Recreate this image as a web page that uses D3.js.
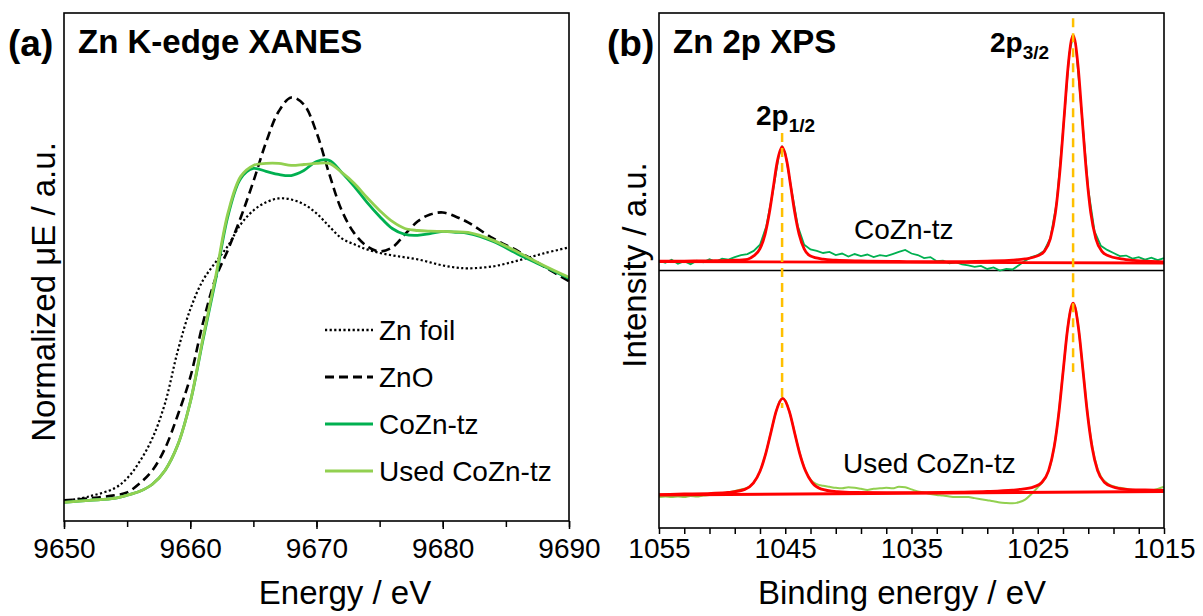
<!DOCTYPE html>
<html>
<head>
<meta charset="utf-8">
<script src="https://cdn.jsdelivr.net/npm/d3@7"></script>
<style>
body { margin: 0; background: #fff; }
svg text { font-family: "Liberation Sans", Arial, sans-serif; fill: #000; }
</style>
</head>
<body>
<div id="chart"></div>
<script>
// ---------- (a) Zn K-edge XANES, normalized mu(E) ----------
var xanesE = [9650, 9652, 9654, 9655, 9656, 9657, 9658, 9659, 9660, 9661, 9662, 9663, 9664, 9665,
  9666, 9667, 9668, 9669, 9670, 9671, 9672, 9673, 9674, 9675, 9676, 9677, 9678, 9679, 9680,
  9681, 9682, 9684, 9686, 9688, 9690];
var znFoil = [0.005, 0.027, 0.064, 0.109, 0.186, 0.291, 0.45, 0.686, 0.877, 1.009, 1.091, 1.168, 1.264, 1.327,
  1.364, 1.382, 1.377, 1.355, 1.314, 1.255, 1.2, 1.173, 1.15, 1.134, 1.123, 1.114, 1.105, 1.091, 1.077,
  1.068, 1.064, 1.073, 1.1, 1.132, 1.159];
var znO = [0.009, 0.018, 0.032, 0.045, 0.086, 0.145, 0.245, 0.395, 0.568, 0.814, 1.018, 1.15, 1.295, 1.459,
  1.636, 1.777, 1.841, 1.809, 1.682, 1.495, 1.327, 1.223, 1.164, 1.141, 1.159, 1.218, 1.277, 1.309, 1.318,
  1.3, 1.273, 1.2, 1.141, 1.073, 1.005];
var coZnTz = [0, 0.009, 0.018, 0.032, 0.05, 0.082, 0.145, 0.259, 0.455, 0.736, 1.009, 1.305, 1.473, 1.518,
  1.505, 1.491, 1.486, 1.509, 1.55, 1.555, 1.5, 1.436, 1.364, 1.3, 1.245, 1.218, 1.214, 1.222, 1.232,
  1.228, 1.223, 1.186, 1.127, 1.073, 1.018];
var usedCoZnTz = [0, 0.009, 0.018, 0.032, 0.05, 0.082, 0.145, 0.259, 0.455, 0.745, 1.023, 1.318, 1.482, 1.532,
  1.541, 1.541, 1.532, 1.536, 1.541, 1.541, 1.5, 1.45, 1.386, 1.327, 1.277, 1.245, 1.236, 1.233, 1.232,
  1.23, 1.227, 1.191, 1.136, 1.077, 1.023];
var xanesTicks = [9650, 9655, 9660, 9665, 9670, 9675, 9680, 9685, 9690];
var xanesLabels = [9650, 9660, 9670, 9680, 9690];
var xanesNames = ["Zn foil", "ZnO", "CoZn-tz", "Used CoZn-tz"];

// ---------- (b) Zn 2p XPS, intensity (a.u., stacked) ----------
var xpsE = [1055, 1054.5, 1054, 1053.5, 1053, 1052.5, 1052, 1051.5, 1051, 1050.5, 1050,
  1049.5, 1049, 1048.5, 1048, 1047.5, 1047, 1046.5, 1046, 1045.5, 1045.25, 1045,
  1044.5, 1044, 1043.5, 1043, 1042.5, 1042, 1041.5, 1041, 1040.5, 1040,
  1039.5, 1039, 1038.5, 1038, 1037.5, 1037, 1036.5, 1036, 1035.5, 1035,
  1034.5, 1034, 1033.5, 1033, 1032.5, 1032, 1031.5, 1031, 1030.5, 1030,
  1029.5, 1029, 1028.5, 1028, 1027.5, 1027, 1026.5, 1026, 1025.5, 1025,
  1024.5, 1024, 1023.5, 1023, 1022.5, 1022.2, 1022, 1021.5, 1021, 1020.5, 1020,
  1019.5, 1019, 1018.5, 1018, 1017.5, 1017, 1016.5, 1016, 1015.5, 1015];
var coZnRaw = [51.9, 51.5, 52.1, 51.3, 51.8, 51.2, 51.9, 51.6, 52.2, 51.7, 52.3,
  52.1, 52.6, 53.0, 53.2, 53.8, 55.0, 58.6, 65.0, 72.4, 74.0, 72.9,
  65.6, 58.6, 55.0, 54.1, 53.8, 53.4, 53.6, 53.0, 53.3, 52.7,
  53.2, 52.8, 53.1, 52.6, 53.0, 52.8, 53.2, 53.6, 54.0, 53.3,
  53.0, 52.4, 52.6, 51.8, 51.9, 51.4, 51.6, 51.2, 51.0, 50.7,
  50.9, 50.3, 50.6, 50.0, 50.3, 50.2, 51.0, 51.9, 52.6, 53.0,
  53.8, 56.3, 63.2, 77.0, 92.1, 95.6, 94.0, 80.1, 65.8, 57.6, 54.8,
  54.0, 53.4, 52.8, 52.9, 52.3, 52.6, 52.1, 52.5, 52.0, 52.4];
var usedRaw = [6.0, 6.1, 6.0, 6.1, 6.0, 6.2, 6.1, 6.3, 6.4, 6.5, 6.7,
  6.9, 7.2, 7.5, 7.8, 8.8, 11.0, 14.9, 20.0, 24.3, 25.2, 24.8,
  21.0, 15.9, 11.8, 9.4, 8.5, 8.2, 8.0, 7.8, 7.7, 7.9,
  7.8, 7.6, 7.4, 7.6, 7.7, 7.8, 7.7, 8.0, 7.9, 7.5,
  7.1, 6.9, 6.6, 6.4, 6.3, 6.1, 6.0, 6.0, 6.0, 5.8,
  5.6, 5.4, 5.2, 4.95, 4.85, 4.8, 5.0, 5.5, 6.6, 7.9,
  9.3, 12.2, 19.0, 30.2, 41.2, 43.6, 42.6, 32.7, 21.2, 13.6, 10.0,
  8.7, 8.1, 7.8, 7.6, 7.4, 7.3, 7.2, 7.3, 7.6, 8.0];
// fitted envelopes [E, intensity]
var coZnFit = [[1055, 51.8], [1053, 51.83], [1051, 51.88], [1049, 51.99], [1048, 52.18], [1047.5, 52.83],
  [1047, 54.24], [1046.6, 57.03], [1046.25, 61.3], [1045.95, 66.1], [1045.65, 70.9], [1045.25, 74.0],
  [1044.85, 70.9], [1044.55, 66.1], [1044.25, 61.3], [1043.9, 57.0], [1043.5, 54.2], [1043, 52.8],
  [1042, 52.2], [1041, 52.0], [1039, 51.85], [1036, 51.75], [1032, 51.7], [1029, 51.83], [1027, 52.0],
  [1026, 52.25], [1025, 52.85], [1024.5, 53.66], [1024, 56.2], [1023.6, 61.2], [1023.25, 69.2],
  [1022.9, 80.1], [1022.6, 89.5], [1022.2, 95.7], [1021.8, 89.5], [1021.5, 80.1], [1021.15, 69.2],
  [1020.8, 61.2], [1020.4, 56.2], [1019.9, 53.66], [1019.4, 52.85], [1018.4, 52.25], [1017.4, 51.95],
  [1016, 51.75], [1015, 51.66]];
var usedFit = [[1055, 6.5], [1053, 6.6], [1050.87, 6.72], [1049.53, 6.9], [1048.2, 7.5], [1047.53, 8.7],
  [1047, 11.0], [1046.53, 14.6], [1046.13, 18.6], [1045.73, 22.6], [1045.2, 25.18], [1044.67, 22.6],
  [1044.27, 18.6], [1043.87, 14.6], [1043.4, 11.1], [1042.87, 8.8], [1042.2, 7.6], [1040.87, 7.05],
  [1039.53, 6.9], [1037, 6.85], [1034, 6.87], [1031, 6.96], [1029, 7.09], [1027, 7.35], [1026.42, 7.49],
  [1025.31, 7.99], [1024.7, 8.8], [1024.14, 11.13], [1023.7, 15.72], [1023.31, 22.76], [1022.98, 30.66],
  [1022.64, 38.56], [1022.2, 43.67], [1021.76, 38.57], [1021.42, 30.67], [1021.09, 22.77], [1020.7, 15.74],
  [1020.26, 11.15], [1019.7, 8.83], [1019.09, 8.02], [1017.98, 7.52], [1016.5, 7.39], [1015, 7.3]];
var coZnBg = [[1055, 51.75], [1015, 51.46]];
var usedBg = [[1055, 6.41], [1015, 7.09]];
var divider = 50.0;
var peakPos = [1045.25, 1022.2];
var guideTop = [76.7, 99.0];
var guideBottom = [23.3, 30.3];
var xpsTicks = [1055, 1053, 1051, 1049, 1047, 1045, 1043, 1041, 1039, 1037, 1035, 1033, 1031, 1029,
  1027, 1025, 1023, 1021, 1019, 1017, 1015];
var xpsLabels = [1055, 1045, 1035, 1025, 1015];

var W = 1203, H = 616;
var FONT = 28;

var svg = d3.select("#chart")
  .append("svg")
    .attr("width", W)
    .attr("height", H);

svg.append("rect").attr("width", W).attr("height", H).attr("fill", "#fff");

var defs = svg.append("defs");
defs.append("filter").attr("id", "glow")
    .attr("x", "-50%").attr("width", "200%")
  .append("feGaussianBlur").attr("stdDeviation", 2);

// ================= panel (a) =================
var boxA = {left: 64, right: 569, top: 13, bottom: 521};

var xA = d3.scaleLinear()
  .domain([9650, 9690])
  .range([boxA.left, boxA.right]);

var yA = d3.scaleLinear()
  .domain([-0.085, 2.225])
  .range([boxA.bottom, boxA.top]);

// minor ticks
svg.append("g")
  .attr("transform", "translate(0," + boxA.bottom + ")")
  .call(d3.axisBottom(xA).tickValues(xanesTicks).tickSize(6).tickFormat(""))
  .call(function(g) { g.select(".domain").remove(); })
  .selectAll("line").attr("stroke-width", 1.5);

// major ticks + labels
svg.append("g")
  .attr("transform", "translate(0," + boxA.bottom + ")")
  .call(d3.axisBottom(xA).tickValues(xanesLabels).tickSize(8).tickPadding(9).tickFormat(d3.format("d")))
  .call(function(g) { g.select(".domain").remove(); })
  .call(function(g) { g.selectAll("line").attr("stroke-width", 1.5); })
  .selectAll("text")
    .style("font-size", FONT + "px")
    .attr("fill", "#000");

var lineA = function(vals) {
  return d3.line()
    .x(function(d, i) { return xA(xanesE[i]); })
    .y(function(d) { return yA(d); })
    .curve(d3.curveCatmullRom.alpha(0.5))(vals);
};

var xanesSeries = [
  {name: xanesNames[0], vals: znFoil, color: "#000", width: 2.2, dash: "2.2,2.4"},
  {name: xanesNames[1], vals: znO, color: "#000", width: 2.6, dash: "9,5"},
  {name: xanesNames[2], vals: coZnTz, color: "#00b050", width: 2.8, dash: null},
  {name: xanesNames[3], vals: usedCoZnTz, color: "#92d050", width: 2.8, dash: null}
];

svg.selectAll(".xanes")
  .data(xanesSeries)
  .enter()
  .append("path")
    .attr("class", "xanes")
    .attr("d", function(d) { return lineA(d.vals); })
    .attr("fill", "none")
    .attr("stroke", function(d) { return d.color; })
    .attr("stroke-width", function(d) { return d.width; })
    .attr("stroke-dasharray", function(d) { return d.dash; });

// legend
var legend = svg.selectAll(".leg")
  .data(xanesSeries)
  .enter()
  .append("g")
    .attr("class", "leg")
    .attr("transform", function(d, i) { return "translate(325," + (330 + i * 47) + ")"; });
legend.append("line")
  .attr("x1", 0).attr("x2", 48)
  .attr("stroke", function(d) { return d.color; })
  .attr("stroke-width", function(d) { return d.width + 0.4; })
  .attr("stroke-dasharray", function(d) { return d.dash; });
legend.append("text")
  .attr("x", 54)
  .attr("dy", "0.35em")
  .style("font-size", FONT + "px")
  .text(function(d) { return d.name; });

svg.append("rect")
  .attr("x", boxA.left).attr("y", boxA.top)
  .attr("width", boxA.right - boxA.left).attr("height", boxA.bottom - boxA.top)
  .attr("fill", "none").attr("stroke", "#000").attr("stroke-width", 1.6);

svg.append("text").attr("x", 8).attr("y", 56)
  .style("font-size", "37px").style("font-weight", "bold").text("(a)");
svg.append("text").attr("x", 78).attr("y", 53)
  .style("font-size", "33px").style("font-weight", "bold").text("Zn K-edge XANES");

svg.append("text")
  .attr("x", 345).attr("y", 604)
  .attr("text-anchor", "middle")
  .style("font-size", "33px")
  .text("Energy / eV");
svg.append("text")
  .attr("transform", "translate(55,292)rotate(-90)")
  .attr("text-anchor", "middle")
  .style("font-size", "33px")
  .text("Normalized \u03bcE / a.u.");

// ================= panel (b) =================
var boxB = {left: 659, right: 1164, top: 13, bottom: 528};

var xB = d3.scaleLinear()
  .domain([1055, 1015])
  .range([boxB.left, boxB.right]);

var yB = d3.scaleLinear()
  .domain([0, 100])
  .range([boxB.bottom, boxB.top]);

svg.append("g")
  .attr("transform", "translate(0," + boxB.bottom + ")")
  .call(d3.axisBottom(xB).tickValues(xpsTicks).tickSize(6).tickPadding(4)
    .tickFormat(function(d) { return xpsLabels.indexOf(d) >= 0 ? d : ""; }))
  .call(function(g) { g.select(".domain").remove(); })
  .call(function(g) { g.selectAll("line").attr("stroke-width", 1.5); })
  .selectAll("text")
    .style("font-size", FONT + "px")
    .attr("fill", "#000");

// divider between the two spectra
svg.append("line")
  .attr("x1", boxB.left).attr("x2", boxB.right)
  .attr("y1", yB(divider)).attr("y2", yB(divider))
  .attr("stroke", "#000").attr("stroke-width", 1.5);

var rawLine = function(vals, curve) {
  return d3.line()
    .x(function(d, i) { return xB(xpsE[i]); })
    .y(function(d) { return yB(d); })
    .curve(curve)(vals);
};
var pairLine = d3.line()
  .x(function(d) { return xB(d[0]); })
  .y(function(d) { return yB(d[1]); })
  .curve(d3.curveMonotoneX);

svg.append("path")
  .attr("d", rawLine(coZnRaw, d3.curveLinear))
  .attr("fill", "none").attr("stroke", "#00b050").attr("stroke-width", 1.8);
svg.append("path")
  .attr("d", rawLine(usedRaw, d3.curveMonotoneX))
  .attr("fill", "none").attr("stroke", "#92d050").attr("stroke-width", 2);

[coZnBg, usedBg, coZnFit, usedFit].forEach(function(s) {
  svg.append("path")
    .attr("d", pairLine(s))
    .attr("fill", "none").attr("stroke", "#ff0000").attr("stroke-width", 2.8);
});

// peak guides
peakPos.forEach(function(p, i) {
  svg.append("line")
    .attr("x1", xB(p)).attr("x2", xB(p))
    .attr("y1", yB(guideTop[i])).attr("y2", yB(guideBottom[i]))
    .attr("stroke", "#bbbbbb").attr("stroke-width", 6).attr("opacity", 0.6)
    .attr("filter", "url(#glow)");
  svg.append("line")
    .attr("x1", xB(p)).attr("x2", xB(p))
    .attr("y1", yB(guideTop[i])).attr("y2", yB(guideBottom[i]))
    .attr("stroke", "#ffc000").attr("stroke-width", 2.5)
    .attr("stroke-dasharray", "9,6");
});

svg.append("rect")
  .attr("x", boxB.left).attr("y", boxB.top)
  .attr("width", boxB.right - boxB.left).attr("height", boxB.bottom - boxB.top)
  .attr("fill", "none").attr("stroke", "#000").attr("stroke-width", 1.6);

svg.append("text").attr("x", 607).attr("y", 56)
  .style("font-size", "37px").style("font-weight", "bold").text("(b)");
svg.append("text").attr("x", 673).attr("y", 53)
  .style("font-size", "33px").style("font-weight", "bold").text("Zn 2p XPS");

var peakLabel = function(x, y, sub) {
  var t = svg.append("text").attr("x", x).attr("y", y)
    .style("font-size", "28px").style("font-weight", "bold");
  t.append("tspan").text("2p");
  t.append("tspan").attr("dy", 7).style("font-size", "19px").text(sub);
};
peakLabel(990, 52, "3/2");
peakLabel(756, 125, "1/2");

svg.append("text").attr("x", 854).attr("y", 239)
  .style("font-size", FONT + "px").text("CoZn-tz");
svg.append("text").attr("x", 843).attr("y", 473)
  .style("font-size", FONT + "px").text("Used CoZn-tz");

svg.append("text")
  .attr("x", 902).attr("y", 604)
  .attr("text-anchor", "middle")
  .style("font-size", "33px")
  .text("Binding energy / eV");
svg.append("text")
  .attr("transform", "translate(646,265)rotate(-90)")
  .attr("text-anchor", "middle")
  .style("font-size", "33px")
  .text("Intensity / a.u.");
</script>
</body>
</html>
